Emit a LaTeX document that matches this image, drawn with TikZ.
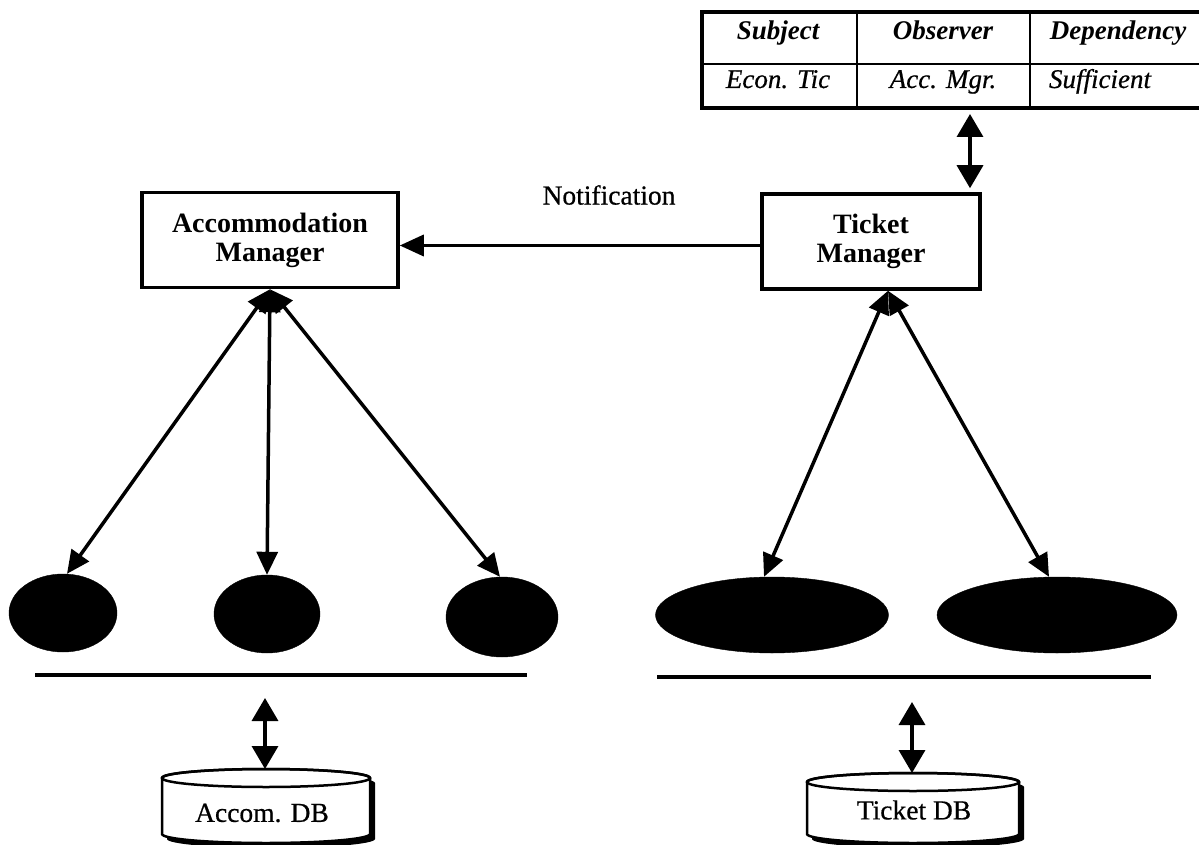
\documentclass[tikz,border=0pt]{standalone}
\usepackage{fontspec}
\setmainfont{Liberation Serif}
\newfontfamily\heavyrm{Liberation Serif}[FakeBold=0.6]
\usetikzlibrary{arrows.meta,shapes.geometric}

\tikzset{
  mgr/.style={draw, line width=3.5pt, minimum height=95pt, inner sep=0pt,
    align=center, font=\fontsize{28pt}{29pt}\selectfont\bfseries},
  txt/.style={inner sep=0pt, font=\heavyrm\fontsize{27.5pt}{29pt}\selectfont},
  head/.style={txt, anchor=base, font=\fontsize{27pt}{29pt}\selectfont\bfseries\itshape},
  cell/.style={txt, anchor=base, font=\heavyrm\fontsize{27pt}{29pt}\selectfont\itshape},
  blob/.style={ellipse, fill=black, draw=black, inner sep=0pt},
  link/.style={line width=3.5pt,
    {Triangle[length=23pt,width=21pt]}-{Triangle[length=23pt,width=21pt]}},
  dbl/.style={line width=3.5pt,
    {Triangle[length=23pt,width=26pt]}-{Triangle[length=23pt,width=26pt]}},
  notify/.style={line width=3.5pt, -{Triangle[length=24pt,width=21pt]}},
  rule/.style={line width=3.5pt},
  pics/dbcyl/.style 2 args={code={
    % drop shadow
    \fill[black] (-#1+5,5) -- (-#1+5,#2+5)
      arc[start angle=180, end angle=0, x radius=#1, y radius=9]
      -- (#1+5,5) arc[start angle=0, end angle=-180, x radius=#1, y radius=9] -- cycle;
    % body and lid
    \filldraw[fill=white, line width=2.5pt] (-#1,0) -- (-#1,#2)
      arc[start angle=180, end angle=0, x radius=#1, y radius=9]
      -- (#1,0) arc[start angle=0, end angle=-180, x radius=#1, y radius=9] -- cycle;
    \draw[line width=2.5pt] (0,0) ellipse[x radius=#1, y radius=9];
  }}
}

\begin{document}
\begin{tikzpicture}[x=1pt, y=-1pt]
\useasboundingbox[fill=white] (0,0) rectangle (1199,845);

% dependency table
\draw[line width=2.5pt] (702,64) -- (1215,64);
\draw[line width=2.5pt] (857,12) -- (857,108);
\draw[line width=2.5pt] (1030,12) -- (1030,108);
\draw[line width=4.5pt, line cap=rect] (1215,12) -- (702,12) -- (702,108) -- (1215,108);
\node[head] (th1) at (778,40) {Subject};
\node[head] (th2) at (943,40) {Observer};
\node[head] (th3) at (1118,40) {Dependency};
\node[cell] (td1) at (778,88) {Econ. Tic};
\node[cell] (td2) at (943,88) {Acc. Mgr.};
\node[cell] (td3) at (1100,88) {Sufficient};
\coordinate (tblfoot) at (970,114);

% managers
\node[mgr, minimum width=256pt] (am) at (270,240) {Accommodation\\Manager};
\node[mgr, minimum width=218pt] (tm) at (871,241.5) {Ticket\\Manager};
\node[txt] (note) at (609,195) {Notification};

\draw[notify] ([yshift=-4pt]tm.west) -- ([yshift=-4pt]tm.west -| am.east);
\draw[dbl, shorten >=4pt] (tblfoot) -- (tm.north -| tblfoot);

% objects
\node[blob, minimum width=108pt, minimum height=78pt] (l1) at (63,613) {};
\node[blob, minimum width=106pt, minimum height=78pt] (l2) at (267,614) {};
\node[blob, minimum width=112pt, minimum height=80pt] (l3) at (502,617) {};
\node[blob, minimum width=233pt, minimum height=76pt] (r1) at (772,615) {};
\node[blob, minimum width=240pt, minimum height=76pt] (r2) at (1057,615) {};

\draw[link] (am.south) -- ([xshift=4pt]l1.north);
\draw[link] (am.south) -- (l2.north);
\draw[link] (am.south) -- ([xshift=-2pt]l3.north);
\draw[link] ([xshift=17pt]tm.south) -- ([xshift=-8pt]r1.north);
\draw[link] ([xshift=17pt]tm.south) -- ([xshift=-8pt]r2.north);

% buses
\draw[rule] (35,675) -- (527,675);
\draw[rule] (657,677) -- (1151,677);

% databases
\pic at (266,778) {dbcyl={104}{56}};
\pic at (913,782) {dbcyl={106}{52}};
\node[txt] (adb) at (262,813) {Accom. DB};
\node[txt] (tdb) at (914,810) {Ticket DB};
\coordinate (abus) at (265,698);
\coordinate (atop) at (265,769);
\coordinate (tbus) at (912,702);
\coordinate (ttop) at (912,773);
\draw[dbl] (abus) -- (atop);
\draw[dbl] (tbus) -- (ttop);
\end{tikzpicture}
\end{document}
